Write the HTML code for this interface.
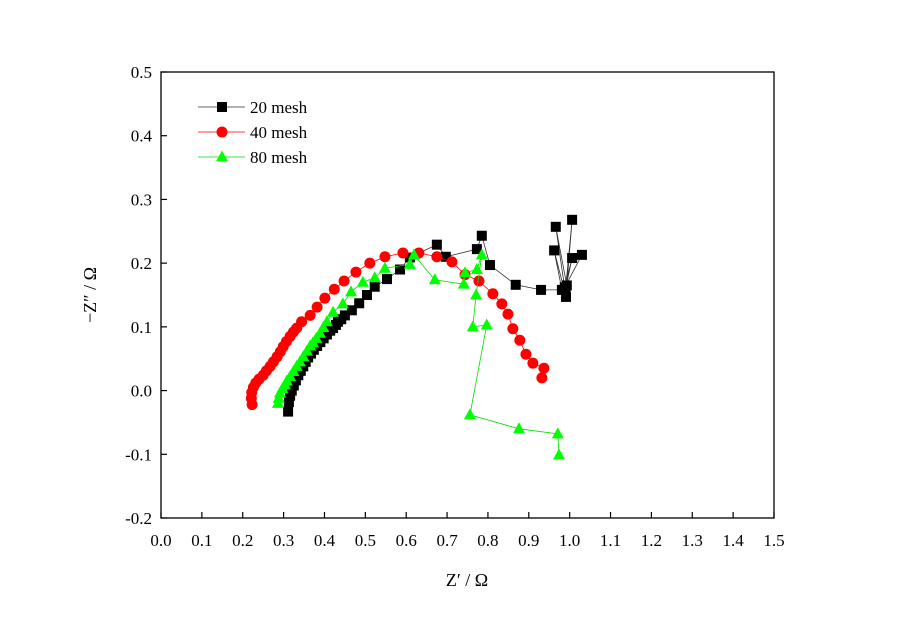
<!DOCTYPE html>
<html><head><meta charset="utf-8"><style>
body{margin:0;background:#fff}
svg text{font-family:"Liberation Serif",serif;fill:#000}
</style></head><body>
<svg id="chart" width="900" height="622" xmlns="http://www.w3.org/2000/svg">
<rect width="900" height="622" fill="#fff"/>
<g id="plot"></g>
</svg>
<script>
const xTicks=[0.0,0.1,0.2,0.3,0.4,0.5,0.6,0.7,0.8,0.9,1.0,1.1,1.2,1.3,1.4,1.5];
const yTicks=[0.5,0.4,0.3,0.2,0.1,0.0,-0.1,-0.2];
const x20=[0.311,0.313,0.316,0.320,0.325,0.330,0.336,0.342,0.348,0.354,0.360,0.367,0.374,0.382,0.390,0.398,0.406,0.414,0.421,0.428,0.433,0.441,0.45,0.467,0.485,0.504,0.523,0.553,0.585,0.609,0.675,0.697,0.773,0.785,0.805,0.868,0.93,0.981,0.962,0.991,0.966,0.993,1.006,0.99,1.006,0.988,1.03];
const y20=[-0.033,-0.018,-0.008,0.0,0.008,0.016,0.024,0.031,0.038,0.045,0.052,0.058,0.064,0.070,0.076,0.082,0.088,0.094,0.098,0.103,0.108,0.112,0.118,0.126,0.137,0.150,0.163,0.175,0.19,0.209,0.229,0.21,0.222,0.243,0.197,0.166,0.158,0.158,0.22,0.147,0.257,0.165,0.268,0.16,0.208,0.162,0.213];
const x40=[0.223,0.221,0.222,0.226,0.232,0.240,0.250,0.258,0.267,0.275,0.284,0.292,0.299,0.307,0.316,0.324,0.332,0.344,0.365,0.382,0.401,0.424,0.448,0.477,0.511,0.548,0.592,0.631,0.675,0.712,0.744,0.778,0.812,0.834,0.849,0.861,0.878,0.893,0.91,0.937,0.932];
const y40=[-0.022,-0.012,-0.003,0.005,0.012,0.018,0.024,0.031,0.038,0.045,0.053,0.061,0.069,0.077,0.085,0.092,0.098,0.108,0.118,0.131,0.145,0.159,0.172,0.186,0.2,0.21,0.216,0.216,0.21,0.202,0.182,0.172,0.152,0.136,0.12,0.097,0.079,0.057,0.043,0.035,0.02];
const x80=[0.286,0.288,0.291,0.297,0.303,0.308,0.316,0.324,0.332,0.340,0.348,0.357,0.365,0.372,0.380,0.389,0.397,0.406,0.421,0.445,0.465,0.494,0.523,0.548,0.609,0.619,0.67,0.741,0.744,0.773,0.785,0.771,0.763,0.797,0.756,0.876,0.971,0.974];
const y80=[-0.02,-0.012,-0.004,0.003,0.009,0.015,0.022,0.030,0.038,0.045,0.053,0.062,0.070,0.075,0.082,0.09,0.099,0.108,0.123,0.136,0.155,0.17,0.177,0.192,0.198,0.213,0.174,0.167,0.185,0.19,0.213,0.15,0.1,0.103,-0.038,-0.06,-0.068,-0.101];

const L=161,R=774,T=72,B=518,NS="http://www.w3.org/2000/svg";
const sx=v=>L+(v-0)/(1.5)*(R-L);
const sy=v=>T+(0.5-v)/(0.7)*(B-T);
const g=document.getElementById('plot');
function mk(tag,a,p){const e=document.createElementNS(NS,tag);for(const k in a)e.setAttribute(k,a[k]);(p||g).appendChild(e);return e;}

const frame=mk('rect',{x:L,y:T,width:R-L,height:B-T,fill:'none',stroke:'#000','stroke-width':1.3});



xTicks.forEach(v=>{
  const t=mk('line',{x1:sx(v),x2:sx(v),y1:B,y2:B-6,stroke:'#000','stroke-width':1.2});
  
  
  const l=mk('text',{x:sx(v),y:546,'font-size':17,'text-anchor':'middle'});
  l.textContent=v.toFixed(1);
  
  
});
yTicks.forEach(v=>{
  const t=mk('line',{x1:L,x2:L+6,y1:sy(v),y2:sy(v),stroke:'#000','stroke-width':1.2});
  
  
  const l=mk('text',{x:152,y:sy(v)+6,'font-size':17,'text-anchor':'end'});
  l.textContent=v.toFixed(1);
  
  
});
const xt=mk('text',{x:467,y:586,'font-size':18,'text-anchor':'middle'});
xt.textContent='Z′ / Ω';


const yt=mk('text',{x:0,y:0,'font-size':18,'text-anchor':'middle',transform:'translate(96,295) rotate(-90)'});
yt.textContent='−Z″ / Ω';



function marker(type,cx,cy,color,parent){
  let e;
  if(type==='sq')e=mk('rect',{x:cx-5,y:cy-5,width:10,height:10,fill:color},parent);
  else if(type==='ci')e=mk('circle',{cx:cx,cy:cy,r:5.5,fill:color},parent);
  else e=mk('polygon',{points:`${cx},${cy-6.5} ${cx-6},${cy+4.5} ${cx+6},${cy+4.5}`,fill:color},parent);
  return e;
}
const series=[
  {name:'20 mesh',xs:x20,ys:y20,c:'#000',lc:'#333',m:'sq',id:'series-20-mesh'},
  {name:'40 mesh',xs:x40,ys:y40,c:'#ff0000',lc:'#ff0000',m:'ci',id:'series-40-mesh'},
  {name:'80 mesh',xs:x80,ys:y80,c:'#00ff00',lc:'#00dd00',m:'tr',id:'series-80-mesh'}
];
series.forEach((s,i)=>{
  const sg=mk('g',{});
  
  
  const pl=mk('polyline',{points:s.xs.map((x,j)=>sx(x)+','+sy(s.ys[j])).join(' '),fill:'none',stroke:s.lc,'stroke-width':0.8},sg);
  
  
  s.xs.forEach((x,j)=>{
    const m=marker(s.m,sx(x),sy(s.ys[j]),s.c,sg);
    
    
  });
  const ly=107+i*25;
  const lg=mk('g',{});
  
  
  mk('line',{x1:198,x2:245,y1:ly,y2:ly,stroke:s.lc,'stroke-width':0.8},lg);
  marker(s.m,222,ly,s.c,lg);
  const tx=mk('text',{x:250,y:ly+6,'font-size':17},lg);
  tx.textContent=s.name;
});
</script>
</body></html>
